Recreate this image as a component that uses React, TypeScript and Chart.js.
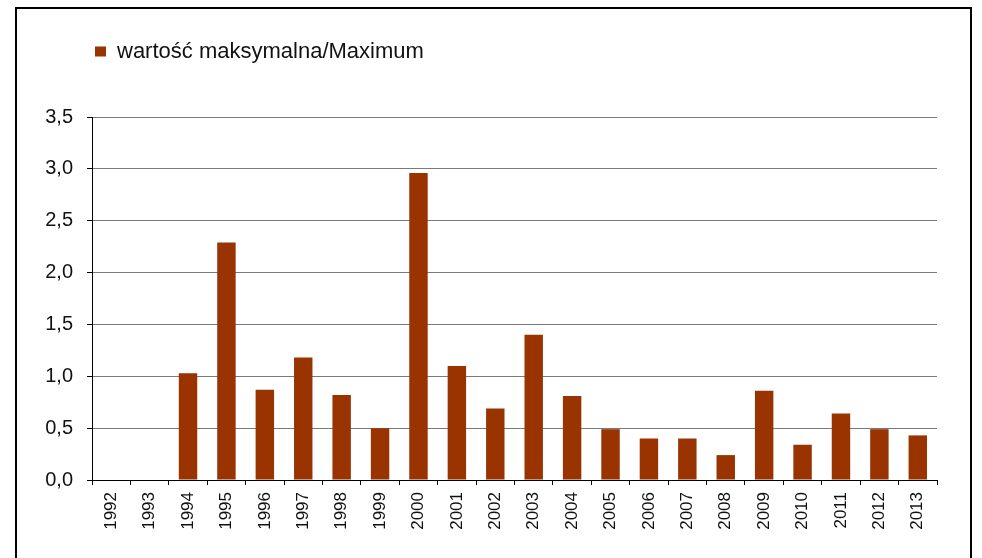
import { useEffect, useRef } from 'react';
import { Chart, registerables } from 'chart.js';

Chart.register(...registerables);

const categories = [
  '1992', '1993', '1994', '1995', '1996', '1997', '1998', '1999', '2000', '2001', '2002',
  '2003', '2004', '2005', '2006', '2007', '2008', '2009', '2010', '2011', '2012', '2013',
];
const maximumValues = [
  null, null, 1.03, 2.29, 0.87, 1.18, 0.82, 0.5, 2.96, 1.1, 0.69,
  1.4, 0.81, 0.49, 0.4, 0.4, 0.24, 0.86, 0.34, 0.64, 0.49, 0.43,
];
const seriesLabel = 'wartość maksymalna/Maximum';
const yMin = 0;
const yMax = 3.5;
const yStep = 0.5;

const FONT = '"Liberation Sans", Arial, sans-serif';

const legendSpacer = {
  id: 'legendSpacer',
  beforeInit(chart: any) {
    const legend = chart.legend;
    if (!legend) return;
    const orig = legend.fit;
    legend.fit = function () {
      orig.call(this);
      this.height = 79.5;
    };
  },
};

export default function App() {
  const ref = useRef<HTMLCanvasElement | null>(null);

  useEffect(() => {
    if (!ref.current) return;
    const chart = new Chart(ref.current, {
      type: 'bar',
      data: {
        labels: categories,
        datasets: [
          {
            label: seriesLabel,
            data: maximumValues,
            backgroundColor: '#993300',
            borderWidth: 0,
            categoryPercentage: 1,
            barPercentage: 0.48,
          },
        ],
      },
      options: {
        animation: false,
        responsive: false,
        maintainAspectRatio: false,
        layout: { padding: { top: 37.5, left: 20, right: 45, bottom: 18 } },
        plugins: {
          legend: {
            display: true,
            position: 'top',
            align: 'start',
            fullSize: false,
            labels: {
              boxWidth: 11,
              boxHeight: 10,
              padding: 3,
              color: '#111',
              font: { family: FONT, size: 22 },
            },
          },
          tooltip: { enabled: false },
        },
        scales: {
          x: {
            grid: {
              display: true,
              drawOnChartArea: false,
              drawTicks: true,
              tickLength: 5,
              tickColor: '#000',
              offset: true,
            },
            border: { display: true, color: '#000', width: 1 },
            ticks: {
              color: '#111',
              font: { family: FONT, size: 17 },
              minRotation: 90,
              maxRotation: 90,
              padding: 7,
              autoSkip: false,
            },
            afterFit: (s: any) => {
              s.height = 60;
            },
          },
          y: {
            min: yMin,
            max: yMax,
            grid: {
              color: '#7a7a7a',
              lineWidth: 1,
              drawTicks: true,
              tickLength: 5,
              tickColor: '#000',
            },
            border: { display: true, color: '#000', width: 1 },
            ticks: {
              stepSize: yStep,
              color: '#111',
              font: { family: FONT, size: 20 },
              padding: 14,
              callback: (v: any) => Number(v).toFixed(1).replace('.', ','),
            },
            afterFit: (s: any) => {
              s.width = 72;
            },
          },
        },
      },
      plugins: [legendSpacer],
    } as any);
    return () => chart.destroy();
  }, []);

  return (
    <div
      style={{
        position: 'fixed',
        left: 0,
        top: 0,
        width: 982,
        height: 558,
        overflow: 'hidden',
        background: '#fff',
      }}
    >
      <div
        style={{
          position: 'absolute',
          left: 15,
          top: 7,
          width: 953,
          height: 700,
          borderTop: '2px solid #000',
          borderLeft: '2px solid #000',
          borderRight: '2px solid #000',
        }}
      />
      <canvas
        ref={ref}
        width={982}
        height={558}
        style={{ position: 'absolute', left: 0, top: 0, width: 982, height: 558 }}
      />
    </div>
  );
}
